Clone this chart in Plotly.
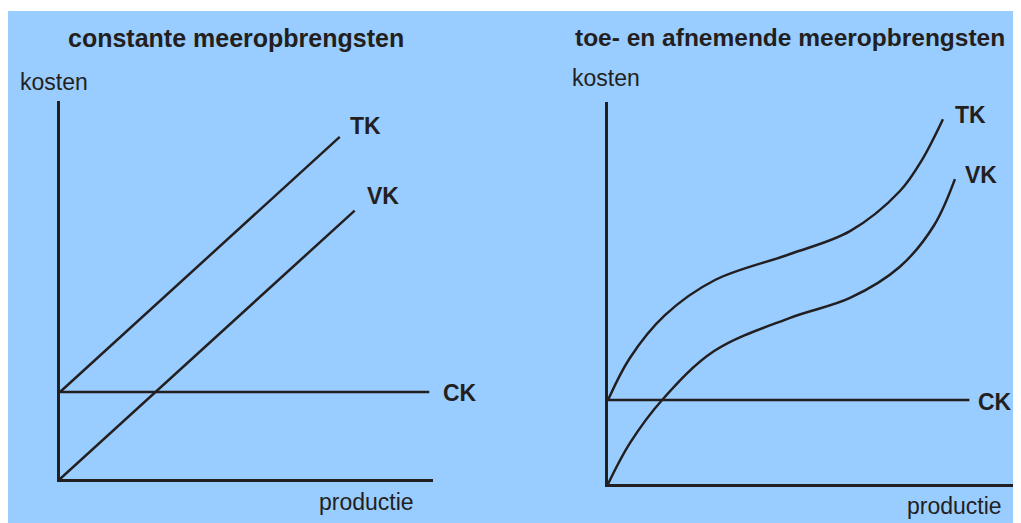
import plotly.graph_objects as go

# de pagina zet de figuur op (8, 8) en toont 1005 px breed: posities hieronder zijn paginapixels
OFF = 8
W, H = 1005, 515
INK = '#231F20'
BLAUW = '#99CCFF'

# linker grafiek: constante meeropbrengsten (productie 0-100, kosten 0-100)
ck_links_q = [0, 99]
ck_links = [23, 23]
tk_links_q = [0, 75]
tk_links = [23, 90.5]
vk_links_q = [0, 79]
vk_links = [0, 71]

# rechter grafiek: toe- en afnemende meeropbrengsten
ck_rechts_q = [0, 87.5]
ck_rechts = [22, 22]
tk_rechts_q = [0, 5.3, 13.8, 25.9, 44.1, 58.6, 70.7, 76.0, 81.1]
tk_rechts = [22, 33.0, 44.2, 53.4, 60.2, 66.2, 76.7, 84.8, 95.5]
vk_rechts_q = [0, 5.3, 13.1, 25.7, 44.1, 58.6, 70.6, 79.0, 84.0]
vk_rechts = [0, 10.7, 22.0, 34.8, 43.5, 48.7, 56.8, 67.8, 79.8]


def fx(x):
    return (x - OFF) / W


def fy(y):
    return 1 - (y - OFF) / H


fig = go.Figure()

line = dict(color=INK, width=2.5)
for q, k in [(ck_links_q, ck_links), (tk_links_q, tk_links), (vk_links_q, vk_links)]:
    fig.add_trace(go.Scatter(x=q, y=k, mode='lines', line=line, xaxis='x', yaxis='y'))
for q, k in [(ck_rechts_q, ck_rechts), (tk_rechts_q, tk_rechts), (vk_rechts_q, vk_rechts)]:
    fig.add_trace(go.Scatter(x=q, y=k, mode='lines', line=dict(line, shape='spline', smoothing=1.0),
                             xaxis='x2', yaxis='y2'))

axis = dict(range=[0, 100], showgrid=False, zeroline=False, showticklabels=False,
            ticks='', showline=True, linecolor=INK, linewidth=3, fixedrange=True)

fig.update_layout(
    width=W, height=H,
    margin=dict(l=0, r=0, t=0, b=0),
    paper_bgcolor='white',
    plot_bgcolor='rgba(0,0,0,0)',
    showlegend=False,
    hovermode=False,
    font=dict(family='Liberation Sans, Arial, sans-serif', color=INK, size=23),
    xaxis=dict(axis, domain=[fx(60), fx(433)], anchor='y'),
    yaxis=dict(axis, domain=[fy(479), fy(101)], anchor='x'),
    # rechter as loopt tot de rand: 4.13 px per eenheid
    xaxis2=dict(axis, range=[0, (OFF + W - 608) / 4.13], domain=[fx(608), 1.0], anchor='y2'),
    yaxis2=dict(axis, domain=[fy(484), fy(102)], anchor='x2'),
)

# blauwe achtergrond
fig.add_shape(type='rect', xref='paper', yref='paper', x0=0, x1=1, y0=0, y1=fy(11),
              fillcolor=BLAUW, line_width=0, layer='below')

teksten = [
    ('<b>constante meeropbrengsten</b>', 236, 38, 25),
    ('<b>toe- en afnemende meeropbrengsten</b>', 790, 38, 24.5),
    ('kosten', 54, 82, 23),
    ('kosten', 606, 78, 23),
    ('productie', 366, 502, 23),
    ('productie', 954, 506, 23),
    ('<b>TK</b>', 365, 126, 23),
    ('<b>VK</b>', 383, 196, 23),
    ('<b>CK</b>', 460, 393, 23),
    ('<b>TK</b>', 970, 115, 23),
    ('<b>VK</b>', 981, 175, 23),
    ('<b>CK</b>', 995, 402, 23),
]
for t, x, y, s in teksten:
    fig.add_annotation(text=t, x=fx(x), y=fy(y), xref='paper', yref='paper', showarrow=False,
                       xanchor='center', yanchor='middle', font=dict(size=s))

fig.write_html("out.html")
